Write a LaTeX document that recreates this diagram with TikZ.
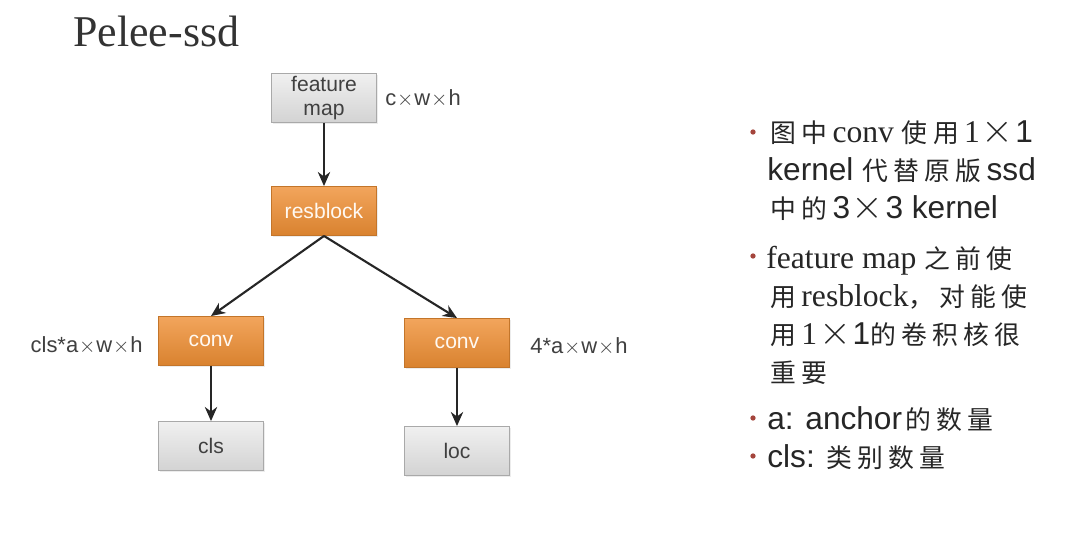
\documentclass[tikz,border=0pt]{standalone}
\usepackage{fontspec}
\setmainfont{Liberation Serif}
\setsansfont{Liberation Sans}
\newfontfamily\cjk{Noto Sans CJK SC}
\usetikzlibrary{arrows.meta,shadows}
\def\zhloop#1{\ifx#1\relax\else#1\kern3pt\expandafter\zhloop\fi}
\newcommand{\zh}[1]{{\cjk\fontsize{14.7}{21}\selectfont\zhloop#1\relax}}
\newcommand{\bigx}{\kern1pt\scalebox{1.35}{$\times$}\kern1pt}
\newcommand{\smx}{\kern0.5pt$\times$\kern0.5pt}
\definecolor{orangetop}{HTML}{F2A55C}
\definecolor{orangebot}{HTML}{D9822F}
\definecolor{greytop}{HTML}{F0F0F0}
\definecolor{greybot}{HTML}{D3D3D3}
\definecolor{dotred}{HTML}{A4453C}
\begin{document}
\begin{tikzpicture}[x=0.02cm,y=-0.02cm]
\tikzstyle{grey box}=[rectangle,draw=greybot!80!black,line width=0.4pt,top color=greytop,bottom color=greybot,minimum width=60pt,minimum height=28pt,inner sep=0.5pt,align=center,font=\sffamily\fontsize{12}{13.5}\selectfont,text=black!75,drop shadow={opacity=0.15,shadow xshift=1pt,shadow yshift=-1pt}]
\tikzstyle{orange box}=[grey box,draw=orangebot!90!black,top color=orangetop,bottom color=orangebot,text=white!95!orange]
\tikzstyle{dim}=[font=\sffamily\fontsize{12.5}{14}\selectfont,text=black!75,inner sep=0pt]
\tikzstyle{edge}=[draw=black!85,line width=1.2pt,-{Stealth[length=8pt,width=7pt]}]
\tikzstyle{note}=[font=\fontsize{18}{21}\selectfont,text=black!85,anchor=base west,inner sep=0pt]
\tikzstyle{dot}=[circle,fill=dotred,inner sep=0pt,minimum size=3pt]
\useasboundingbox[fill=white] (0,0) rectangle (1080,541);
% title
\node[anchor=base west,inner sep=0pt,font=\fontsize{25}{30}\selectfont,text=black!80] (title) at (73,47) {Pelee-ssd};
% network
\node[grey box] (fmap) at (324,98) {feature\\map};
\node[orange box] (res) at (324,211) {resblock};
\node[orange box] (convl) at (211,341) {conv};
\node[orange box] (convr) at (457,343) {conv};
\node[grey box] (cls) at (211,446) {cls};
\node[grey box] (loc) at (457,451) {loc};
\draw[edge] (fmap) -- (res);
\draw[edge] (res.south) -- (convl.north);
\draw[edge] (res.south) -- (convr.north);
\draw[edge] (convl) -- (cls);
\draw[edge] (convr) -- (loc);
% sizes
\node[dim,anchor=west] (dfmap) at (385,98) {c\smx w\smx h};
\node[dim,anchor=east] (dcls) at (143,345) {cls*a\smx w\smx h};
\node[dim,anchor=west] (dloc) at (530,346) {4*a\smx w\smx h};
% notes
\node[note] (n1) at (770,142) {\zh{图中}conv \zh{使用}1\bigx\sffamily 1};
\node[note] (n2) at (767,180) {\sffamily kernel \zh{代替原版}ssd};
\node[note] (n3) at (770,218) {\zh{中的}\sffamily 3\bigx 3 kernel};
\node[note] (n4) at (766,268) {feature map \zh{之前使}};
\node[note] (n5) at (770,306) {\zh{用}resblock\zh{，对能使}};
\node[note] (n6) at (770,344) {\zh{用}1\bigx\sffamily 1\zh{的卷积核很}};
\node[note] (n7) at (770,382) {\zh{重要}};
\node[note] (n8) at (767,429) {\sffamily a: anchor\kern2pt\zh{的数量}};
\node[note] (n9) at (767,467) {\sffamily cls: \zh{类别数量}};
\foreach \y/\n in {132/b1,256/b2,418/b3,456/b4}
  \node[dot] (\n) at (753,\y) {};
\end{tikzpicture}
\end{document}
